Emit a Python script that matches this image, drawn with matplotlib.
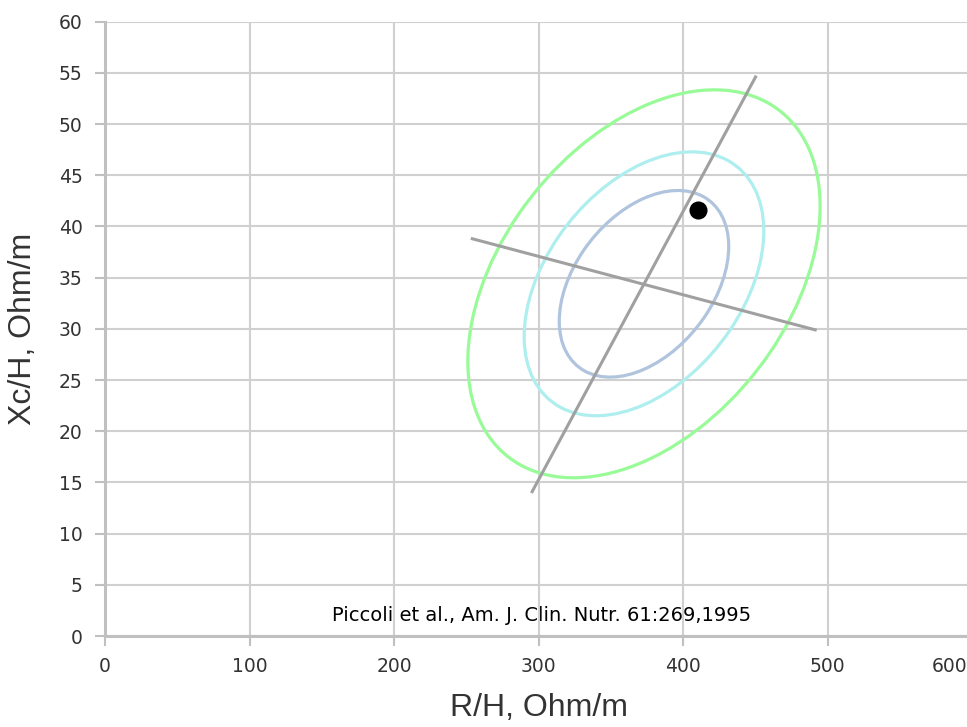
import numpy as np
import matplotlib
matplotlib.use('Agg')
import matplotlib.pyplot as plt
from matplotlib.patches import Ellipse
from matplotlib.transforms import ScaledTranslation

# Valores de referencia (Piccoli et al. 1995)
mean_rh = 373.0
mean_xch = 34.4
sd_rh = 49.8
sd_xch = 7.74
corr = 0.40
levels = [0.50, 0.75, 0.95]
level_colors = ['#B0C4DE', '#AFEEEE', '#98FB98']

# Ejes grises (extremos)
major_x = [295.6, 450.2]
major_y = [14.1, 54.6]
minor_x = [254.2, 491.5]
minor_y = [38.8, 29.9]

# Punto del sujeto
point_rh = [410.2]
point_xch = [41.6]

x_ticks = [0, 100, 200, 300, 400, 500, 600]
y_ticks = list(range(0, 61, 5))

fig = plt.figure(figsize=(9.67, 7.27), dpi=100)
ax = fig.add_axes([105 / 967, 1 - 636 / 727, 867 / 967, (636 - 21.7) / 727])

cov = np.array([[sd_rh ** 2, corr * sd_rh * sd_xch],
                [corr * sd_rh * sd_xch, sd_xch ** 2]])
vals, vecs = np.linalg.eigh(cov)
angle = np.degrees(np.arctan2(vecs[1, 1], vecs[0, 1]))
for p, c in zip(levels, level_colors):
    k = np.sqrt(-2 * np.log(1 - p))
    e = Ellipse((mean_rh, mean_xch), width=2 * k * np.sqrt(vals[1]),
                height=2 * k * np.sqrt(vals[0]), angle=angle,
                fill=False, edgecolor=c, linewidth=2.3, zorder=3)
    ax.add_patch(e)

ax.plot(major_x, major_y, color='#A0A0A0', linewidth=2.2, zorder=4)
ax.plot(minor_x, minor_y, color='#A0A0A0', linewidth=2.2, zorder=4)
ax.plot(point_rh, point_xch, 'o', color='black', markersize=12, zorder=5)

# texto detras de la rejilla, como en el original
ax.text(302, 2.0, 'Piccoli et al., Am. J. Clin. Nutr. 61:269,1995',
        ha='center', va='center', fontsize=14, color='black', zorder=0.1)

ax.set_xlim(0, 600)
ax.set_ylim(0, 60)
ax.set_xticks(x_ticks)
ax.set_yticks(y_ticks)
ax.grid(True, color='#D0D0D0', linewidth=1.5)
ax.set_axisbelow(True)
for s in ['top', 'right']:
    ax.spines[s].set_visible(False)
for s in ['left', 'bottom']:
    ax.spines[s].set_color('#C0C0C0')
    ax.spines[s].set_linewidth(2.2)
ax.tick_params(axis='both', direction='out', length=7, width=1.5,
               color='#C0C0C0', labelsize=13.5, labelcolor='#333333')
ax.tick_params(axis='x', pad=8)
ax.tick_params(axis='y', pad=9)

last = ax.get_xticklabels()[-1]
last.set_ha('right')
last.set_transform(last.get_transform() + ScaledTranslation(-0.05, 0, fig.dpi_scale_trans))

ax.set_xlabel('R/H, Ohm/m', fontsize=23, color='#333333', labelpad=12,
              family='Liberation Sans')
ax.set_ylabel('Xc/H, Ohm/m', fontsize=23, color='#333333', labelpad=15,
              family='Liberation Sans')

plt.savefig('out.png', dpi=100)
